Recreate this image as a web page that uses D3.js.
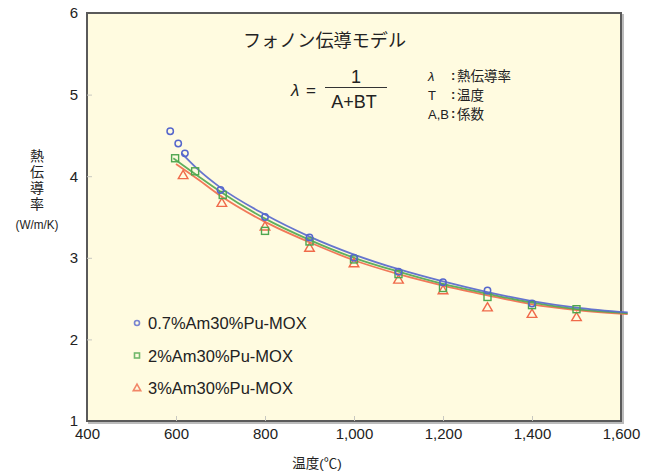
<!DOCTYPE html>
<html lang="ja">
<head>
<meta charset="UTF-8">
<title>フォノン伝導モデル</title>
<script src="https://d3js.org/d3.v7.min.js"></script>
<style>
  body { margin: 0; background: #fff; }
  text { font-family: "Liberation Sans", "Noto Sans CJK JP", sans-serif; fill: #222; }
</style>
</head>
<body>
<div id="chart"></div>
<script>
// measured points
const seriesNames = ["0.7%Am30%Pu-MOX", "2%Am30%Pu-MOX", "3%Am30%Pu-MOX"];
const blueT = [587, 605, 620, 700, 800, 900, 1000, 1100, 1200, 1300, 1400];
const blueV = [4.55, 4.40, 4.28, 3.83, 3.50, 3.25, 3.00, 2.83, 2.70, 2.60, 2.44];
const greenT = [598, 643, 705, 800, 900, 1000, 1100, 1200, 1300, 1400, 1500];
const greenV = [4.22, 4.06, 3.77, 3.33, 3.20, 2.98, 2.80, 2.63, 2.52, 2.42, 2.37];
const redT = [616, 703, 800, 900, 1000, 1100, 1200, 1300, 1400, 1500];
const redV = [4.01, 3.67, 3.38, 3.12, 2.93, 2.73, 2.60, 2.39, 2.31, 2.27];

// fitted curves
const blueFitT = [613, 650, 700, 800, 900, 1000, 1100, 1200, 1300, 1400, 1500, 1615];
const blueFitV = [4.28, 4.08, 3.86, 3.53, 3.26, 3.04, 2.86, 2.71, 2.58, 2.47, 2.39, 2.33];
const greenFitT = [594, 650, 700, 800, 900, 1000, 1100, 1200, 1300, 1400, 1500, 1615];
const greenFitV = [4.22, 4.00, 3.81, 3.48, 3.22, 3.00, 2.83, 2.68, 2.56, 2.45, 2.37, 2.32];
const redFitT = [600, 650, 700, 800, 900, 1000, 1100, 1200, 1300, 1400, 1500, 1615];
const redFitV = [4.15, 3.96, 3.76, 3.44, 3.19, 2.97, 2.80, 2.66, 2.54, 2.43, 2.36, 2.31];

const xTicks = [400, 600, 800, 1000, 1200, 1400, 1600];
const yTicks = [1, 2, 3, 4, 5, 6];

const W = 658, H = 473;
const m = { left: 87, right: 37, top: 13, bottom: 52 };

const svg = d3.select("#chart").append("svg")
  .attr("width", W).attr("height", H);

const x = d3.scaleLinear().domain([400, 1600]).range([m.left, W - m.right]);
const y = d3.scaleLinear().domain([1, 6]).range([H - m.bottom, m.top]);

const colors = ["#5566cc", "#4fa64f", "#f06a4a"];

// frame with a soft shadow
svg.append("rect")
  .attr("x", x(400) + 2).attr("y", y(6) + 2)
  .attr("width", x(1600) - x(400)).attr("height", y(1) - y(6))
  .attr("fill", "none").attr("stroke", "#bbb").attr("stroke-width", 2);
svg.append("rect")
  .attr("x", x(400)).attr("y", y(6))
  .attr("width", x(1600) - x(400)).attr("height", y(1) - y(6))
  .attr("fill", "#fffbe0").attr("stroke", "#5a5a5a").attr("stroke-width", 2);

// axes with small inner ticks
const xAxis = svg.append("g")
  .attr("transform", `translate(0,${y(1)})`)
  .call(d3.axisBottom(x).tickValues(xTicks).tickSize(-5).tickPadding(9)
    .tickFormat(d3.format(",")));
xAxis.select(".domain").remove();
xAxis.selectAll("line").attr("stroke", "#c8c8c0");
xAxis.selectAll("text").attr("font-size", 15).attr("dy", "0.6em");
xAxis.selectAll(".tick").filter(d => d === 400 || d === 1600).select("line").remove();

const yAxis = svg.append("g")
  .attr("transform", `translate(${x(400)},0)`)
  .call(d3.axisLeft(y).tickValues(yTicks).tickSize(-5).tickPadding(9)
    .tickFormat(d3.format("d")));
yAxis.select(".domain").remove();
yAxis.selectAll("line").attr("stroke", "#c8c8c0");
yAxis.selectAll("text").attr("font-size", 15);
yAxis.selectAll(".tick").filter(d => d === 1 || d === 6).select("line").remove();

// axis titles
svg.append("text").attr("x", 317).attr("y", 468)
  .attr("text-anchor", "middle").attr("font-size", 13.5).text("温度(℃)");
const yl = ["熱", "伝", "導", "率"];
svg.selectAll(".ylab").data(yl).join("text")
  .attr("x", 37).attr("y", (d, i) => 161 + i * 16)
  .attr("text-anchor", "middle").attr("font-size", 14).text(d => d);
svg.append("text").attr("x", 37).attr("y", 229)
  .attr("text-anchor", "middle").attr("font-size", 12)
  .attr("textLength", 43).attr("lengthAdjust", "spacingAndGlyphs")
  .text("(W/m/K)");

// fitted lines
const line = d3.line().x(d => x(d[0])).y(d => y(d[1])).curve(d3.curveMonotoneX);
const fits = [
  d3.zip(blueFitT, blueFitV),
  d3.zip(greenFitT, greenFitV),
  d3.zip(redFitT, redFitV)
];
// draw red first so blue sits on top
[2, 1, 0].forEach(i => {
  svg.append("path").datum(fits[i])
    .attr("d", line).attr("fill", "none")
    .attr("stroke", colors[i]).attr("stroke-width", 1.8).attr("opacity", 0.9);
});

// markers
const tri = d3.symbol().type(d3.symbolTriangle).size(40);
function circleAt(g, cx, cy, c) {
  g.append("circle").attr("cx", cx).attr("cy", cy).attr("r", 3.2)
    .attr("fill", "none").attr("stroke", c).attr("stroke-width", 1.5);
}
function squareAt(g, cx, cy, c) {
  g.append("rect").attr("x", cx - 3.5).attr("y", cy - 3.5).attr("width", 7).attr("height", 7)
    .attr("fill", "none").attr("stroke", c).attr("stroke-width", 1.4);
}
function triAt(g, cx, cy, c) {
  g.append("path").attr("d", tri).attr("transform", `translate(${cx},${cy + 0.5})`)
    .attr("fill", "none").attr("stroke", c).attr("stroke-width", 1.4);
}

const pts = svg.append("g");
d3.zip(redT, redV).forEach(d => triAt(pts, x(d[0]), y(d[1]), colors[2]));
d3.zip(greenT, greenV).forEach(d => squareAt(pts, x(d[0]), y(d[1]), colors[1]));
d3.zip(blueT, blueV).forEach(d => circleAt(pts, x(d[0]), y(d[1]), colors[0]));

// legend
const leg = svg.append("g");
seriesNames.forEach((name, i) => {
  const ly = 323 + i * 32.5;
  const g = leg.append("g").attr("opacity", 0.8);
  if (i === 0) {
    g.append("circle").attr("cx", 137).attr("cy", ly).attr("r", 2.5)
      .attr("fill", "none").attr("stroke", colors[0]).attr("stroke-width", 1.6);
  } else if (i === 1) {
    g.append("rect").attr("x", 134.5).attr("y", ly - 2.5).attr("width", 5).attr("height", 5)
      .attr("fill", "none").attr("stroke", colors[1]).attr("stroke-width", 1.6);
  } else {
    g.append("path").attr("d", d3.symbol().type(d3.symbolTriangle).size(24))
      .attr("transform", `translate(137,${ly + 0.5})`)
      .attr("fill", "none").attr("stroke", colors[2]).attr("stroke-width", 1.6);
  }
  leg.append("text").attr("x", 148).attr("y", ly + 6)
    .attr("font-size", 16.5).text(name);
});

// title and formula
svg.append("text").attr("x", 243).attr("y", 47)
  .attr("font-size", 18).attr("textLength", 163).attr("lengthAdjust", "spacingAndGlyphs")
  .text("フォノン伝導モデル");
svg.append("text").attr("x", 291).attr("y", 96)
  .attr("font-size", 17).attr("font-style", "italic").text("λ");
svg.append("text").attr("x", 306).attr("y", 96)
  .attr("font-size", 17).text("=");
svg.append("text").attr("x", 356).attr("y", 83)
  .attr("text-anchor", "middle").attr("font-size", 18).text("1");
svg.append("line").attr("x1", 325).attr("x2", 387).attr("y1", 87.5).attr("y2", 87.5)
  .attr("stroke", "#333").attr("stroke-width", 1);
svg.append("text").attr("x", 354).attr("y", 108)
  .attr("text-anchor", "middle").attr("font-size", 18).text("A+BT");

const keys = [["λ", "熱伝導率"], ["T", "温度"], ["A,B", "係数"]];
keys.forEach((k, i) => {
  const ky = 81 + i * 19;
  svg.append("text").attr("x", 428).attr("y", ky)
    .attr("font-size", 13).attr("font-style", i === 0 ? "italic" : "normal")
    .text(k[0]);
  svg.append("text").attr("x", 451).attr("y", ky - 1)
    .attr("font-size", 13).attr("font-weight", "bold").text(":");
  svg.append("text").attr("x", 457).attr("y", ky)
    .attr("font-size", 13.5).text(k[1]);
});
</script>
</body>
</html>
